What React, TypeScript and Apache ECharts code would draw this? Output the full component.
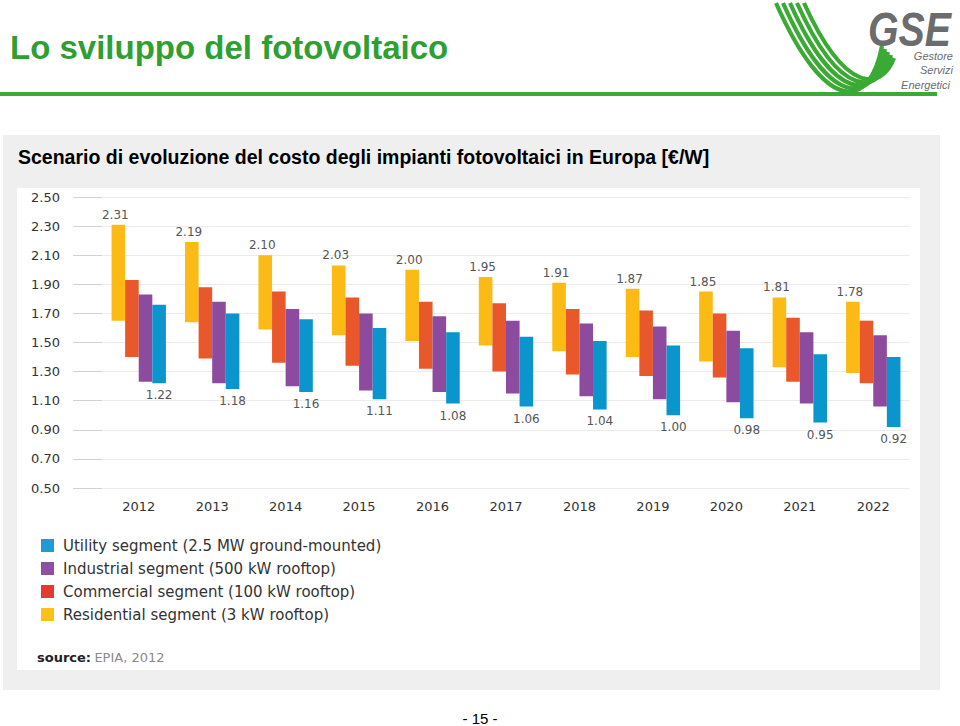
import React, { useEffect, useRef } from "react";
import * as echarts from "echarts";

const years = ["2012", "2013", "2014", "2015", "2016", "2017", "2018", "2019", "2020", "2021", "2022"];

const residentialHigh = [2.31, 2.19, 2.10, 2.03, 2.00, 1.95, 1.91, 1.87, 1.85, 1.81, 1.78];
const residentialLow = [1.65, 1.64, 1.59, 1.55, 1.51, 1.48, 1.44, 1.40, 1.37, 1.33, 1.29];
const commercialHigh = [1.93, 1.88, 1.85, 1.81, 1.78, 1.77, 1.73, 1.72, 1.70, 1.67, 1.65];
const commercialLow = [1.40, 1.39, 1.36, 1.34, 1.32, 1.30, 1.28, 1.27, 1.26, 1.23, 1.22];
const industrialHigh = [1.83, 1.78, 1.73, 1.70, 1.68, 1.65, 1.63, 1.61, 1.58, 1.57, 1.55];
const industrialLow = [1.23, 1.22, 1.20, 1.17, 1.16, 1.15, 1.13, 1.11, 1.09, 1.08, 1.06];
const utilityHigh = [1.76, 1.70, 1.66, 1.60, 1.57, 1.54, 1.51, 1.48, 1.46, 1.42, 1.40];
const utilityLow = [1.22, 1.18, 1.16, 1.11, 1.08, 1.06, 1.04, 1.00, 0.98, 0.95, 0.92];

const segmentNames = [
  "Residential segment (3 kW rooftop)",
  "Commercial segment (100 kW rooftop)",
  "Industrial segment (500 kW rooftop)",
  "Utility segment (2.5 MW ground-mounted)",
];
const legendOrder = [
  "Utility segment (2.5 MW ground-mounted)",
  "Industrial segment (500 kW rooftop)",
  "Commercial segment (100 kW rooftop)",
  "Residential segment (3 kW rooftop)",
];

const FONT = "DejaVu Sans";
const ARIAL = "Liberation Sans, Arial, sans-serif";

export default function App() {
  const ref = useRef<HTMLDivElement>(null);

  useEffect(() => {
    if (!ref.current) return;
    const chart = echarts.init(ref.current, null, { renderer: "svg" });

    const segs = [
      { key: "r", name: segmentNames[0], color: "#fbbb14", legendColor: "#fcc117", low: residentialLow, high: residentialHigh },
      { key: "c", name: segmentNames[1], color: "#e8582a", legendColor: "#e53a2f", low: commercialLow, high: commercialHigh },
      { key: "i", name: segmentNames[2], color: "#8d4b9f", legendColor: "#8e4ea2", low: industrialLow, high: industrialHigh },
      { key: "u", name: segmentNames[3], color: "#0b95cd", legendColor: "#1c9bd6", low: utilityLow, high: utilityHigh },
    ];

    const series: any[] = [];
    segs.forEach((s, si) => {
      series.push({
        type: "bar",
        stack: s.key,
        name: "_base_" + s.key,
        data: s.low,
        itemStyle: { color: "transparent" },
        silent: true,
        barGap: "0%",
        barCategoryGap: "26%",
      });
      const label: any = { show: false };
      if (si === 0) {
        label.show = true;
        label.position = "top";
        label.distance = 4;
        label.offset = [-3, 0];
        label.formatter = (p: any) => s.high[p.dataIndex].toFixed(2);
      } else if (si === 3) {
        label.show = true;
        label.position = "bottom";
        label.distance = 6;
        label.formatter = (p: any) => s.low[p.dataIndex].toFixed(2);
      }
      label.color = "#555";
      label.fontFamily = FONT;
      label.fontSize = 12;
      series.push({
        type: "bar",
        stack: s.key,
        name: s.name,
        data: s.high.map((h, i) => +(h - s.low[i]).toFixed(2)),
        itemStyle: { color: s.color },
        barGap: "0%",
        barCategoryGap: "26%",
        label,
      });
    });

    const logoLines: any[] = [];
    for (let i = 0; i < 5; i++) {
      logoLines.push({
        type: "bezierCurve",
        shape: {
          x1: 776 + 7 * i,
          y1: 3,
          cpx1: 826 + 5 * i,
          cpy1: 116 - 5 * i,
          cpx2: 870 + 3 * i,
          cpy2: 110 - 5 * i,
          x2: 882 + 3 * i,
          y2: 46 + 3 * i,
        },
        style: { stroke: "#3aaa35", lineWidth: 4.2, fill: null },
      });
    }

    const option: any = {
      animation: false,
      backgroundColor: "#ffffff",
      textStyle: { fontFamily: FONT },
      grid: { left: 102, right: 50, top: 197, bottom: 238, containLabel: false },
      xAxis: {
        type: "category",
        data: years,
        axisLine: { show: false },
        axisTick: { show: false },
        axisLabel: { color: "#333", fontFamily: FONT, fontSize: 13, margin: 12 },
      },
      yAxis: {
        type: "value",
        min: 0.5,
        max: 2.5,
        interval: 0.2,
        axisLine: { show: false },
        axisTick: { show: true, length: 29, lineStyle: { color: "#d2d2d2", width: 1 } },
        axisLabel: {
          color: "#333",
          fontFamily: FONT,
          fontSize: 13,
          margin: 42,
          formatter: (v: number) => v.toFixed(2),
        },
        splitLine: { lineStyle: { color: "#ececec", width: 1 } },
      },
      legend: {
        orient: "vertical",
        left: 36,
        top: 532,
        itemGap: 6,
        itemWidth: 13,
        itemHeight: 13,
        icon: "rect",
        selectedMode: false,
        textStyle: { color: "#333", fontFamily: FONT, fontSize: 15, lineHeight: 17, padding: [0, 0, 0, 4] },
        data: legendOrder.map((n) => {
          const s = segs.find((x) => x.name === n)!;
          return { name: n, itemStyle: { color: s.legendColor } };
        }),
      },
      graphic: [
        { type: "rect", z: -20, silent: true, shape: { x: 3, y: 135, width: 937, height: 555 }, style: { fill: "#efefef" } },
        { type: "rect", z: -19, silent: true, shape: { x: 17, y: 188, width: 903, height: 482 }, style: { fill: "#ffffff" } },
        {
          type: "text",
          left: 10,
          top: 31,
          style: { text: "Lo sviluppo del fotovoltaico", fill: "#2f9f33", font: "bold 33px " + ARIAL },
        },
        { type: "rect", silent: true, shape: { x: 0, y: 92, width: 937, height: 4 }, style: { fill: "#3aaa35" } },
        ...logoLines,
        {
          type: "text",
          x: 868,
          y: 5,
          scaleX: 0.82,
          style: { text: "GSE", fill: "#6b6c6e", font: "italic bold 48px " + ARIAL },
        },
        { type: "text", x: 953, y: 50, style: { text: "Gestore", align: "right", fill: "#6b6c6e", font: "italic 11px " + ARIAL } },
        { type: "text", x: 953, y: 64, style: { text: "Servizi", align: "right", fill: "#6b6c6e", font: "italic 11px " + ARIAL } },
        { type: "text", x: 950, y: 79, style: { text: "Energetici", align: "right", fill: "#6b6c6e", font: "italic 11px " + ARIAL } },
        {
          type: "text",
          left: 18,
          top: 147,
          style: {
            text: "Scenario di evoluzione del costo degli impianti fotovoltaici in Europa [€/W]",
            fill: "#000",
            font: "bold 19.5px " + ARIAL,
          },
        },
        {
          type: "text",
          left: 37,
          top: 651,
          style: {
            text: "{a|source:} {b|EPIA, 2012}",
            rich: {
              a: { fill: "#222", font: "bold 13px " + FONT },
              b: { fill: "#8a8a8a", font: "13px " + FONT },
            },
          },
        },
        {
          type: "text",
          x: 480,
          y: 718,
          style: { text: "- 15 -", align: "center", verticalAlign: "middle", fill: "#000", font: "15px " + ARIAL },
        },
      ],
      series,
    };

    chart.setOption(option);
    return () => chart.dispose();
  }, []);

  return (
    <div
      ref={ref}
      style={{ position: "fixed", left: 0, top: 0, width: 960, height: 726, background: "#fff" }}
    />
  );
}
